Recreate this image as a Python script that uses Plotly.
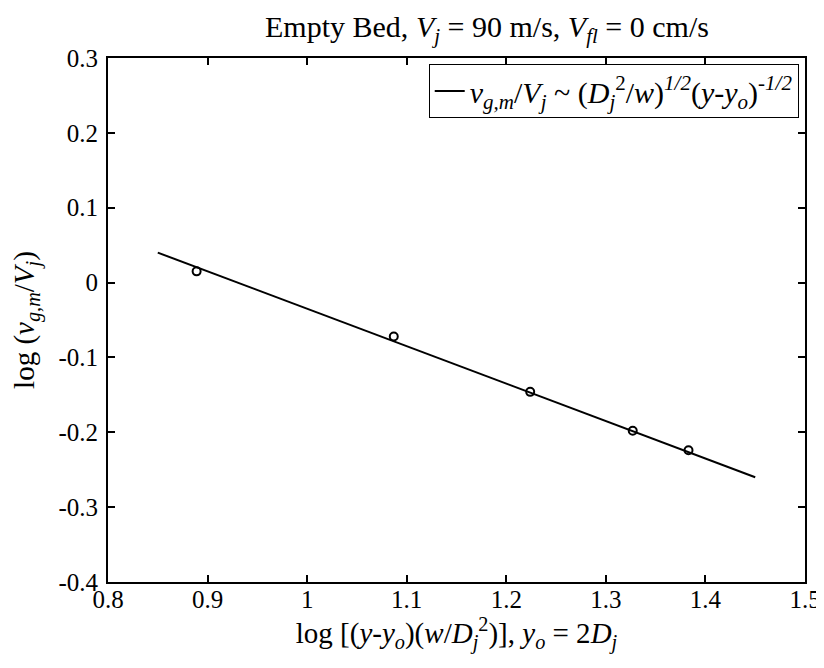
import plotly.graph_objects as go

# measured data points
x_pts = [0.889, 1.087, 1.224, 1.327, 1.383]
y_pts = [0.015, -0.072, -0.146, -0.198, -0.224]

# fitted line (slope -1/2)
x_fit = [0.85, 1.45]
y_fit = [0.04, -0.26]

x_ticks = [0.8, 0.9, 1.0, 1.1, 1.2, 1.3, 1.4, 1.5]
x_ticktext = ["0.8", "0.9", "1", "1.1", "1.2", "1.3", "1.4", "1.5"]
y_ticks = [-0.4, -0.3, -0.2, -0.1, 0.0, 0.1, 0.2, 0.3]
y_ticktext = ["-0.4", "-0.3", "-0.2", "-0.1", "0", "0.1", "0.2", "0.3"]

FONT = "Liberation Serif, Times New Roman, serif"

legend_name = ("<i>v</i><sub><i>g,m</i></sub>/<i>V</i><sub><i>j</i></sub> ~ "
               "(<i>D</i><sub><i>j</i></sub><sup>2</sup>/<i>w</i>)<sup><i>1/2</i></sup>"
               "(<i>y</i>-<i>y</i><sub><i>o</i></sub>)<sup><i>-1/2</i></sup>")

fig = go.Figure()
fig.add_trace(go.Scatter(x=x_fit, y=y_fit, mode="lines",
                         line=dict(color="black", width=2),
                         name=legend_name, showlegend=True))
fig.add_trace(go.Scatter(x=x_pts, y=y_pts, mode="markers",
                         marker=dict(symbol="circle-open", size=8, color="black",
                                     line=dict(width=2, color="black")),
                         showlegend=False))

axis_common = dict(showline=True, linecolor="black", linewidth=2, mirror="ticks",
                   ticks="inside", ticklen=7, tickwidth=1.5, tickcolor="black",
                   showgrid=False, zeroline=False, ticklabeloverflow="allow",
                   tickfont=dict(family=FONT, size=25, color="black"))

fig.update_layout(
    width=816, height=660,
    margin=dict(l=100, r=19, t=50, b=86, autoexpand=False),
    paper_bgcolor="white", plot_bgcolor="white",
    font=dict(family=FONT, color="black"),
    title=dict(text="Empty Bed, <i>V</i><sub><i>j</i></sub> = 90 m/s, <i>V</i><sub><i>fl</i></sub> = 0 cm/s",
               x=0.587, xanchor="center", y=0.972, yanchor="middle", yref="container",
               font=dict(family=FONT, size=30, color="black")),
    xaxis=dict(range=[0.8, 1.5], tickvals=x_ticks, ticktext=x_ticktext,
               ticklabelstandoff=-6,
               title=dict(text="log [(<i>y</i>-<i>y</i><sub><i>o</i></sub>)(<i>w</i>/<i>D</i><sub><i>j</i></sub><sup>2</sup>)], "
                               "<i>y</i><sub><i>o</i></sub> = 2<i>D</i><sub><i>j</i></sub>",
                          font=dict(family=FONT, size=29, color="black"), standoff=6),
               **axis_common),
    yaxis=dict(range=[-0.4, 0.3], tickvals=y_ticks, ticktext=y_ticktext,
               ticklabelstandoff=3,
               title=dict(text="log (<i>v</i><sub><i>g,m</i></sub>/<i>V</i><sub><i>j</i></sub>)",
                          font=dict(family=FONT, size=29, color="black"), standoff=18),
               **axis_common),
    legend=dict(x=0.991, y=0.9885, xanchor="right", yanchor="top",
                bordercolor="black", borderwidth=1, bgcolor="white",
                font=dict(family=FONT, size=30, color="black")),
)

fig.write_html("out.html")
